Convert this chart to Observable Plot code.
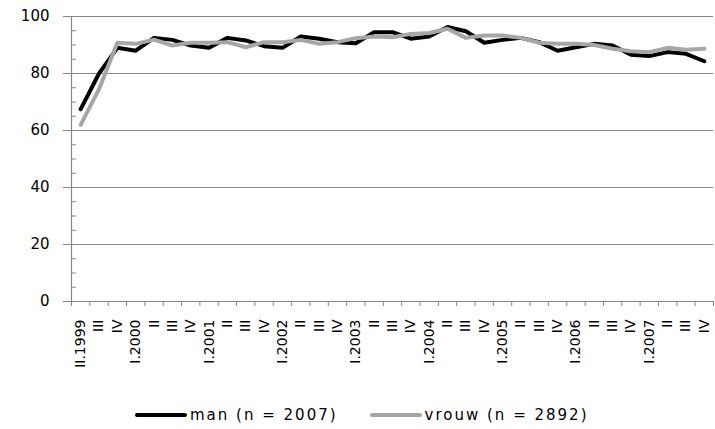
<!DOCTYPE html>
<html>
<head>
<meta charset="utf-8">
<script src="https://cdn.jsdelivr.net/npm/d3@7"></script>
<script src="https://cdn.jsdelivr.net/npm/@observablehq/plot@0.6"></script>
<style>
  body { margin: 0; background: #fff; font-family: "DejaVu Sans", sans-serif; }
  #legend { display: flex; align-items: center; height: 20px; margin-top: 15px; padding-left: 135px; font-size: 15px; letter-spacing: 2px; color: #000; }
  .item { display: flex; align-items: center; }
  .sw { display: inline-block; width: 52px; height: 4px; border-radius: 2px; margin-right: 3px; }
</style>
</head>
<body>
<div id="chart"></div>
<div id="legend"></div>
<script>
const quarters = ["II.1999","III","IV",
  "I.2000","II","III","IV",
  "I.2001","II","III","IV",
  "I.2002","II","III","IV",
  "I.2003","II","III","IV",
  "I.2004","II","III","IV",
  "I.2005","II","III","IV",
  "I.2006","II","III","IV",
  "I.2007","II","III","IV"];
const man = [67.5, 80, 89, 88, 92.5, 91.8, 89.8, 89, 92.5, 91.6, 89.6, 89, 93, 92.2, 91, 90.6,
  94.5, 94.5, 92.2, 93, 96.3, 94.8, 90.8, 91.8, 92.5, 91, 88, 89.2, 90.4, 89.8, 86.6, 86.1, 87.5, 86.9, 84.3];
const vrouw = [62, 74.5, 90.8, 90.4, 91.9, 89.8, 90.8, 90.8, 91, 89.2, 91, 91, 91.8, 90.4, 91, 92.4,
  93, 92.7, 93.9, 94.2, 95.7, 92.5, 93.3, 93.3, 92.5, 90.8, 90.4, 90.4, 90, 88.7, 87.8, 87.5, 89, 88.3, 88.7];
const seriesNames = ["man (n = 2007)", "vrouw (n = 2892)"];
const seriesColors = ["#000000", "#a6a6a6"];
const yTicks = [0, 20, 40, 60, 80, 100];
const yMinor = d3.range(0, 101, 5).filter(v => v % 20 !== 0);

const data = [];
quarters.forEach((q, i) => {
  data.push({i: i + 0.5, q, value: man[i], series: seriesNames[0]});
  data.push({i: i + 0.5, q, value: vrouw[i], series: seriesNames[1]});
});
const centers = quarters.map((q, i) => i + 0.5);
const bounds = d3.range(0, quarters.length + 1);

const axisColor = "#868686";
const chart = Plot.plot({
  width: 715,
  height: 390,
  marginLeft: 71,
  marginRight: 2,
  marginTop: 16,
  marginBottom: 89,
  style: {fontFamily: "DejaVu Sans, sans-serif", background: "#fff"},
  x: {type: "linear", domain: [0, quarters.length]},
  y: {domain: [0, 100]},
  color: {domain: seriesNames, range: seriesColors},
  marks: [
    Plot.gridY(yTicks, {stroke: axisColor, strokeOpacity: 1, strokeWidth: 1.2}),
    Plot.axisY(yTicks, {tickSize: 8, tickPadding: 14, stroke: axisColor, fontSize: 15, style: {letterSpacing: "2px"}, color: "#000", label: null}),
    Plot.axisY(yMinor, {tickSize: 5, tickFormat: () => "", dx: 5, stroke: axisColor, label: null}),
    Plot.ruleX([0], {stroke: axisColor, strokeWidth: 1.2}),
    Plot.axisX(bounds, {tickSize: 5, tickFormat: () => "", stroke: axisColor, label: null}),
    Plot.axisX(centers, {tickSize: 0, tickPadding: 18, tickRotate: -90, tickFormat: d => quarters[Math.round(d - 0.5)], fontSize: 14, style: {letterSpacing: "1px"}, fill: "#000", label: null}),
    Plot.ruleY([0], {stroke: axisColor, strokeWidth: 1.2}),
    Plot.line(data, {x: "i", y: "value", z: "series", stroke: "series", strokeWidth: 4, strokeLinejoin: "round", strokeLinecap: "round"})
  ]
});
document.getElementById("chart").appendChild(chart);

const legend = document.getElementById("legend");
seriesNames.forEach((name, k) => {
  const it = document.createElement("span");
  it.className = "item";
  if (k > 0) it.style.marginLeft = "32px";
  const sw = document.createElement("span");
  sw.className = "sw";
  sw.style.background = seriesColors[k];
  it.appendChild(sw);
  const t = document.createElement("span");
  t.textContent = name;
  it.appendChild(t);
  legend.appendChild(it);
});
</script>
</body>
</html>
